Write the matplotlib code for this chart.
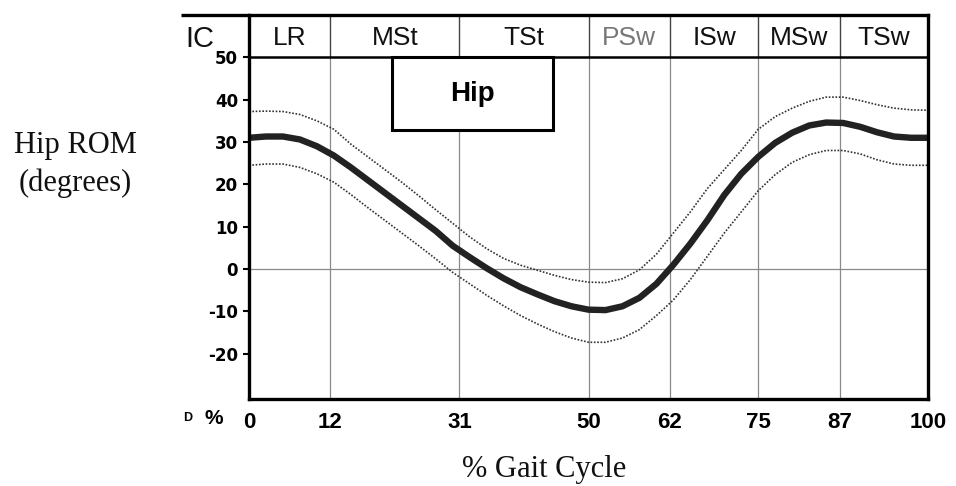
import numpy as np
import matplotlib.pyplot as plt

# % of gait cycle where samples were taken
pct = np.arange(0, 100.1, 2.5)

# hip flexion (+) / extension (-), mean and +/- 1 SD band
hip_mean = [31.0, 31.3, 31.3, 30.6, 29.0, 26.8, 24.0, 21.0, 18.0, 15.0, 12.0,
            9.0, 5.5, 2.8, 0.2, -2.2, -4.3, -6.0, -7.6, -8.8, -9.6, -9.7,
            -8.8, -6.8, -3.5, 1.0, 6.0, 11.5, 17.5, 22.5, 26.5, 29.8, 32.2,
            33.9, 34.6, 34.5, 33.6, 32.3, 31.3, 31.0, 31.0]
hip_upper = [37.2, 37.3, 37.2, 36.5, 35.0, 33.0, 29.5, 26.5, 23.5, 20.5, 17.3,
             14.0, 10.8, 7.6, 4.8, 2.5, 0.9, -0.3, -1.5, -2.5, -3.1, -3.2,
             -2.3, -0.2, 3.5, 8.5, 13.5, 19.0, 23.5, 28.0, 33.0, 36.0, 38.0,
             39.6, 40.6, 40.6, 39.8, 38.8, 38.0, 37.6, 37.5]
hip_lower = [24.5, 24.8, 24.8, 24.0, 22.5, 20.5, 17.6, 14.5, 11.5, 8.5, 5.5,
             2.4, -0.8, -3.5, -6.2, -8.7, -11.0, -13.0, -14.8, -16.3, -17.3,
             -17.3, -16.3, -14.3, -11.0, -7.3, -2.5, 3.0, 8.5, 13.5, 18.5,
             22.3, 25.2, 27.0, 28.0, 28.0, 27.2, 25.8, 24.8, 24.5, 24.5]

# gait phases
phase_edges = [0, 12, 31, 50, 62, 75, 87, 100]
phase_names = ["LR", "MSt", "TSt", "PSw", "ISw", "MSw", "TSw"]
y_ticks = [-20, -10, 0, 10, 20, 30, 40, 50]

fig = plt.figure(figsize=(9.56, 4.86), dpi=100)
ax = fig.add_axes([249 / 956, 87 / 486, 679 / 956, 384 / 486])
ax.set_xlim(0, 100)
ax.set_ylim(-30.7, 60)

# grid of phase boundaries and zero line
for e in phase_edges[1:-1]:
    ax.plot([e, e], [-30.7, 50], color="#8a8a8a", lw=0.9, zorder=1)
    ax.plot([e, e], [50, 60], color="#444444", lw=1.0, zorder=1)
ax.axhline(0, color="#8a8a8a", lw=0.9, zorder=1)
ax.axhline(50, color="black", lw=1.8, zorder=3)

# header row with phase names
for i, name in enumerate(phase_names):
    mid = (phase_edges[i] + phase_edges[i + 1]) / 2
    col = "#777777" if name == "PSw" else "#111111"
    ax.text(mid, 54.6, name, ha="center", va="center", fontsize=19,
            family="Liberation Sans", color=col)
ax.text(-7.3, 54.4, "IC", ha="center", va="center", fontsize=21,
        family="Liberation Sans", color="#111111", clip_on=False)
ax.plot([-10, 0], [60, 60], color="black", lw=2.4, clip_on=False,
        solid_capstyle="butt")

# curves
ax.plot(pct, hip_upper, color="#333333", lw=1.2, ls=(0, (1, 1)), zorder=4)
ax.plot(pct, hip_lower, color="#333333", lw=1.2, ls=(0, (1, 1)), zorder=4)
ax.plot(pct, hip_mean, color="#222222", lw=4.6, zorder=5,
        solid_capstyle="butt", solid_joinstyle="round")

# title box
ax.add_patch(plt.Rectangle((21.1, 32.8), 23.7, 17.2, fill=True,
                           facecolor="white", edgecolor="black", lw=2.2,
                           zorder=6))
ax.text(32.9, 41.3, "Hip", ha="center", va="center", fontsize=20,
        fontweight="bold", family="Liberation Sans", zorder=7)

# frame
for side in ["left", "right", "top", "bottom"]:
    ax.spines[side].set_linewidth(2.4)
    ax.spines[side].set_zorder(8)

ax.set_yticks(y_ticks)
ax.set_yticklabels([str(v) for v in y_ticks], fontsize=12, fontweight="bold",
                   family="DejaVu Sans")
ax.tick_params(axis="y", direction="out", length=4, width=1.5, pad=4)

ax.set_xticks(phase_edges)
ax.set_xticklabels([str(v) for v in phase_edges], fontsize=16,
                   fontweight="bold", family="Liberation Sans")
ax.tick_params(axis="x", length=0, pad=9)

ax.text(-5.2, -35.3, "%", ha="center", va="center", fontsize=15,
        fontweight="bold", family="Liberation Sans", clip_on=False)
ax.text(-9.0, -35.3, "D", ha="center", va="center", fontsize=9,
        fontweight="bold", family="Liberation Sans", clip_on=False)

# axis titles
fig.text(75 / 956, 1 - 145 / 486, "Hip ROM", ha="center", va="center",
         fontsize=22, family="Liberation Serif", color="#111111")
fig.text(75 / 956, 1 - 183 / 486, "(degrees)", ha="center", va="center",
         fontsize=22, family="Liberation Serif", color="#111111")
fig.text(544 / 956, 1 - 469 / 486, "% Gait Cycle", ha="center", va="center",
         fontsize=22, family="Liberation Serif", color="#111111")

fig.savefig("out.png", dpi=100)
